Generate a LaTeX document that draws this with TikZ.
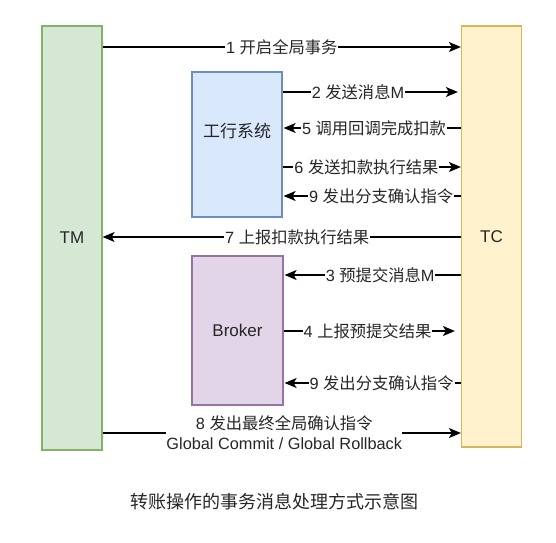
\documentclass[tikz,border=0pt]{standalone}
\usepackage{fontspec}
\setmainfont{Liberation Sans}
\newfontfamily\cjk{Noto Sans CJK SC}
\usetikzlibrary{arrows.meta}
\definecolor{tmfill}{HTML}{D5E8D4}\definecolor{tmdraw}{HTML}{82B366}
\definecolor{tcfill}{HTML}{FFF2CC}\definecolor{tcdraw}{HTML}{D6B656}
\definecolor{ghfill}{HTML}{DAE8FC}\definecolor{ghdraw}{HTML}{6C8EBF}
\definecolor{brfill}{HTML}{E1D5E7}\definecolor{brdraw}{HTML}{9673A6}
\definecolor{txt}{HTML}{262626}
\begin{document}
\begin{tikzpicture}[x=1pt,y=-1pt,
  box/.style={draw, line width=1.2pt, inner sep=0pt, text=txt, font=\fontsize{17}{20}\selectfont},
  msg/.style={line width=1.3pt, -{Stealth[length=12pt,width=10pt,inset=3pt]}},
  lbl/.style={fill=white, text=txt, inner sep=1pt, font=\fontsize{16.3}{20}\selectfont},
]
\useasboundingbox (0,0) rectangle (556,542);
\node[box, fill=tmfill, draw=tmdraw, minimum width=60pt, minimum height=424pt] (tm) at (72,238) {TM};
\node[box, fill=tcfill, draw=tcdraw, minimum width=60pt, minimum height=421pt] (tc) at (491.5,236.5) {TC};
\node[box, fill=ghfill, draw=ghdraw, minimum width=90pt, minimum height=145pt] (gh) at (237,144.5) {};
\node[text=txt, font=\fontsize{17}{20}\selectfont\cjk] (ghl) at (237,131) {工行系统};
\node[box, fill=brfill, draw=brdraw, minimum width=91pt, minimum height=149pt] (br) at (237.5,330.5) {Broker};

\coordinate (y1) at (0,47);
\coordinate (y2) at (0,92);
\coordinate (y5) at (0,128);
\coordinate (y6) at (0,167);
\coordinate (y9a) at (0,196);
\coordinate (y7) at (0,237);
\coordinate (y3) at (0,275);
\coordinate (y4) at (0,331);
\coordinate (y9b) at (0,383);
\coordinate (y8) at (0,433);

\draw[msg] (tm.east |- y1) -- node[lbl, pos=0.5] (l1) {1 {\cjk 开启全局事务}} (tc.west |- y1);
\draw[msg] (gh.east |- y2) -- node[lbl, pos=0.43] (l2) {2 {\cjk 发送消息}M} ([xshift=-3pt]tc.west |- y2);
\draw[msg] (tc.west |- y5) -- node[lbl, pos=0.49] (l5) {5 {\cjk 调用回调完成扣款}} ([xshift=1pt]gh.east |- y5);
\draw[msg] (gh.east |- y6) -- node[lbl, pos=0.47] (l6) {6 {\cjk 发送扣款执行结果}} (tc.west |- y6);
\draw[msg] (tc.west |- y9a) -- node[lbl, pos=0.45] (l9a) {9 {\cjk 发出分支确认指令}} ([xshift=1pt]gh.east |- y9a);
\draw[msg] (tc.west |- y7) -- node[lbl, pos=0.457] (l7) {7 {\cjk 上报扣款执行结果}} (tm.east |- y7);
\draw[msg] (tc.west |- y3) -- node[lbl, pos=0.458] (l3) {3 {\cjk 预提交消息}M} ([xshift=1pt]br.east |- y3);
\draw[msg] (br.east |- y4) -- node[lbl, pos=0.49] (l4) {4 {\cjk 上报预提交结果}} ([xshift=-6pt]tc.west |- y4);
\draw[msg] (tc.west |- y9b) -- node[lbl, pos=0.45] (l9b) {9 {\cjk 发出分支确认指令}} ([xshift=1pt]br.east |- y9b);
\draw[msg] (tm.east |- y8) -- node[lbl, pos=0.507, align=center, inner sep=0pt] (l8) {8 {\cjk 发出最终全局确认指令}\\Global Commit / Global Rollback} (tc.west |- y8);

\node[text=txt, font=\fontsize{18}{20}\selectfont\cjk] (cap) at (274,502) {转账操作的事务消息处理方式示意图};
\end{tikzpicture}
\end{document}
